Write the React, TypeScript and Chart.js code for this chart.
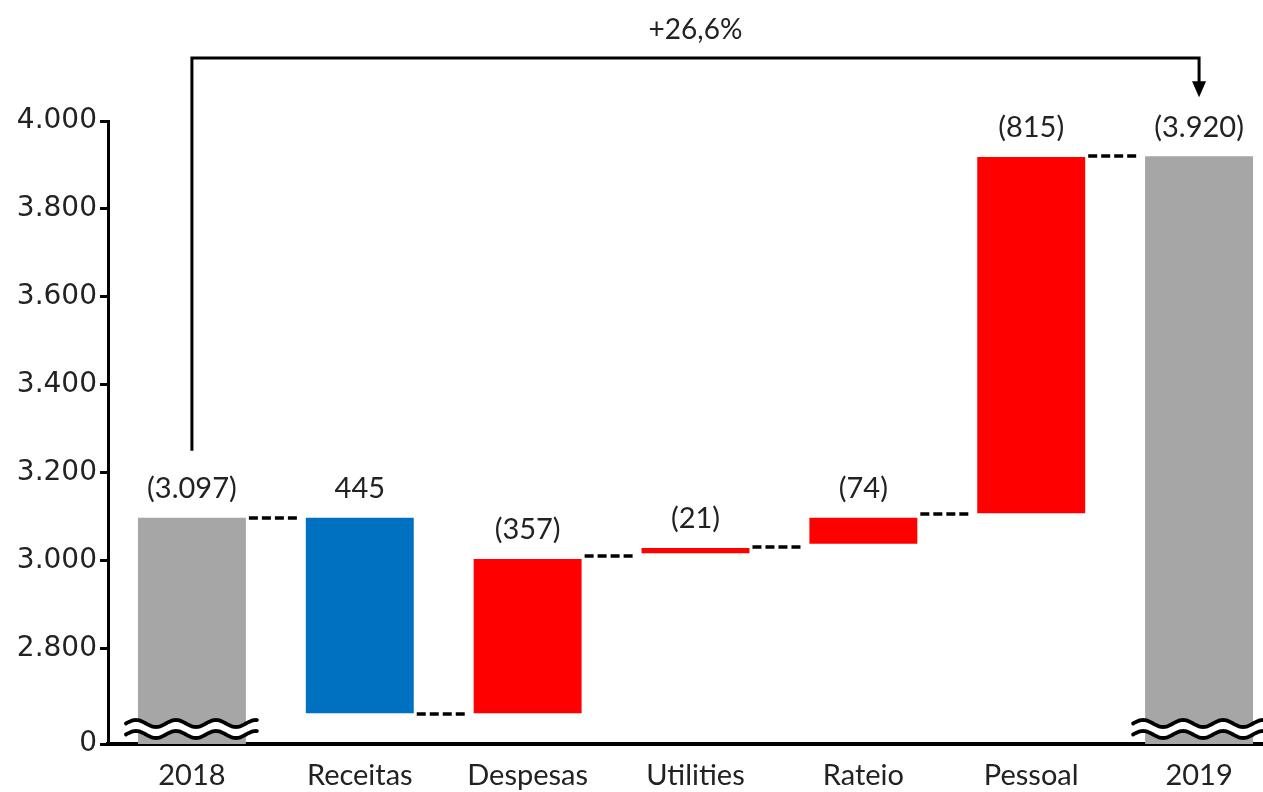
import React, { useEffect, useRef } from 'react';
import { Chart, registerables } from 'chart.js';

Chart.register(...registerables);

// ---------- data ----------
const categories = ['2018', 'Receitas', 'Despesas', 'Utilities', 'Rateio', 'Pessoal', '2019'];
const AXIS_BREAK_VALUE = 2582; // bottom of the broken axis, labelled "0"
const AXIS_MAX = 4000;
const barStarts = [AXIS_BREAK_VALUE, 2652, 2652, 3016, 3038, 3107, AXIS_BREAK_VALUE];
const barEnds = [3097, 3097, 3003, 3028, 3097, 3918, 3920];
const barColors = ['#a6a6a6', '#0070c0', '#ff0000', '#ff0000', '#ff0000', '#ff0000', '#a6a6a6'];
const valueLabels = ['(3.097)', '445', '(357)', '(21)', '(74)', '(815)', '(3.920)'];
const connectorLevels = [3097, 2650, 3009, 3031, 3106, 3921];
const yTickValues = [AXIS_BREAK_VALUE, 2800, 3000, 3200, 3400, 3600, 3800, 4000];
const brokenBars = [0, 6];
const growthLabel = '+26,6%';
const growthFrom = 0;
const growthTo = 6;

const TEXT_COLOR = '#222222';
const LABEL_FONT = '29px Lato';

const formatTick = (v: number) =>
  v === AXIS_BREAK_VALUE ? '0' : String(Math.round(v)).replace(/\B(?=(\d{3})+(?!\d))/g, '.');

function drawWave(ctx: CanvasRenderingContext2D, x0: number, x1: number, yc: number, amp: number, period: number) {
  ctx.beginPath();
  for (let x = x0; x <= x1; x += 1) {
    const yy = yc - amp * Math.sin(((x - x0) / period) * Math.PI * 2);
    if (x === x0) ctx.moveTo(x, yy);
    else ctx.lineTo(x, yy);
  }
  ctx.stroke();
}

const waterfallPlugin = {
  id: 'waterfallDecor',
  afterDatasetsDraw(chart: any) {
    const { ctx } = chart;
    const meta = chart.getDatasetMeta(0);
    const yScale = chart.scales.y;

    // dashed connectors
    ctx.save();
    ctx.strokeStyle = '#000';
    ctx.lineWidth = 3.5;
    ctx.setLineDash([9, 4]);
    connectorLevels.forEach((lvl, i) => {
      const a = meta.data[i];
      const b = meta.data[i + 1];
      if (!a || !b) return;
      const x0 = a.x + a.width / 2 + 3;
      const x1 = b.x - b.width / 2 - 5;
      const py = Math.round(yScale.getPixelForValue(lvl));
      ctx.beginPath();
      ctx.moveTo(x0, py);
      ctx.lineTo(x1, py);
      ctx.stroke();
    });
    ctx.restore();

    // value labels
    ctx.save();
    ctx.fillStyle = TEXT_COLOR;
    ctx.font = LABEL_FONT;
    ctx.textAlign = 'center';
    ctx.textBaseline = 'middle';
    meta.data.forEach((el: any, i: number) => {
      const top = Math.min(el.y, el.base);
      ctx.fillText(valueLabels[i], el.x, top - 29);
    });
    ctx.restore();
  },
  afterDraw(chart: any) {
    const { ctx, chartArea } = chart;
    const meta = chart.getDatasetMeta(0);

    // axis break symbols on the truncated bars
    brokenBars.forEach((i) => {
      const el = meta.data[i];
      if (!el) return;
      const x0 = el.x - el.width / 2 - 12;
      const x1 = el.x + el.width / 2 + 12;
      const yc = chartArea.bottom - 15;
      ctx.save();
      ctx.lineCap = 'round';
      ctx.strokeStyle = '#ffffff';
      ctx.lineWidth = 8;
      drawWave(ctx, x0, x1, yc, 3.5, 40);
      ctx.strokeStyle = '#000000';
      ctx.lineWidth = 3.8;
      drawWave(ctx, x0, x1, yc - 5.5, 3.5, 40);
      drawWave(ctx, x0, x1, yc + 5.5, 3.5, 40);
      ctx.restore();
    });

    // growth bracket
    const a = meta.data[growthFrom];
    const b = meta.data[growthTo];
    if (a && b) {
      const top = chartArea.top - 63;
      const leftBottom = Math.min(a.y, a.base) - 67;
      const arrowTip = Math.min(b.y, b.base) - 59;
      ctx.save();
      ctx.strokeStyle = '#000';
      ctx.fillStyle = '#000';
      ctx.lineWidth = 3;
      ctx.lineJoin = 'miter';
      ctx.beginPath();
      ctx.moveTo(a.x, leftBottom);
      ctx.lineTo(a.x, top);
      ctx.lineTo(b.x, top);
      ctx.lineTo(b.x, arrowTip - 14);
      ctx.stroke();
      ctx.beginPath();
      ctx.moveTo(b.x - 7, arrowTip - 16);
      ctx.lineTo(b.x + 7, arrowTip - 16);
      ctx.lineTo(b.x, arrowTip);
      ctx.closePath();
      ctx.fill();
      ctx.fillStyle = TEXT_COLOR;
      ctx.font = '28px Lato';
      ctx.textAlign = 'center';
      ctx.textBaseline = 'middle';
      ctx.fillText(growthLabel, (a.x + b.x) / 2, top - 28);
      ctx.restore();
    }
  },
};

export default function App() {
  const canvasRef = useRef<HTMLCanvasElement | null>(null);

  useEffect(() => {
    if (!canvasRef.current) return;
    const chart = new Chart(canvasRef.current, {
      type: 'bar',
      data: {
        labels: categories,
        datasets: [
          {
            data: categories.map((_, i) => [barStarts[i], barEnds[i]]) as any,
            backgroundColor: barColors,
            borderWidth: 0,
            barPercentage: 0.643,
            categoryPercentage: 1,
          },
        ],
      },
      options: {
        animation: false,
        responsive: true,
        maintainAspectRatio: false,
        layout: { padding: { top: 121, right: 0, left: 0, bottom: 0 } },
        plugins: {
          legend: { display: false },
          tooltip: { enabled: false },
        },
        scales: {
          x: {
            type: 'category',
            offset: true,
            z: 1,
            grid: { display: false },
            border: { display: true, color: '#000', width: 4 },
            ticks: {
              color: TEXT_COLOR,
              font: { family: 'Lato', size: 29 },
              padding: 6,
              maxRotation: 0,
              autoSkip: false,
            },
            afterFit: (s: any) => {
              s.height = 48;
            },
          },
          y: {
            type: 'linear',
            min: AXIS_BREAK_VALUE,
            max: AXIS_MAX,
            z: 1,
            afterBuildTicks: (s: any) => {
              s.ticks = yTickValues.map((v) => ({ value: v }));
            },
            afterFit: (s: any) => {
              s.width = 108;
            },
            grid: {
              display: true,
              drawOnChartArea: false,
              drawTicks: true,
              tickLength: 8,
              tickWidth: 3,
              tickColor: '#000',
              color: '#000',
            },
            border: { display: true, color: '#000', width: 3 },
            ticks: {
              color: TEXT_COLOR,
              font: { family: 'DejaVu Sans', size: 28 },
              padding: 3,
              callback: (v: any) => formatTick(Number(v)),
            },
          },
        },
      },
      plugins: [waterfallPlugin],
    });
    return () => chart.destroy();
  }, []);

  return (
    <div style={{ position: 'absolute', left: 0, top: 0, width: 1263, height: 792, overflow: 'hidden', background: '#fff' }}>
      <div style={{ position: 'relative', width: 1283, height: 792 }}>
        <canvas ref={canvasRef} />
      </div>
    </div>
  );
}
